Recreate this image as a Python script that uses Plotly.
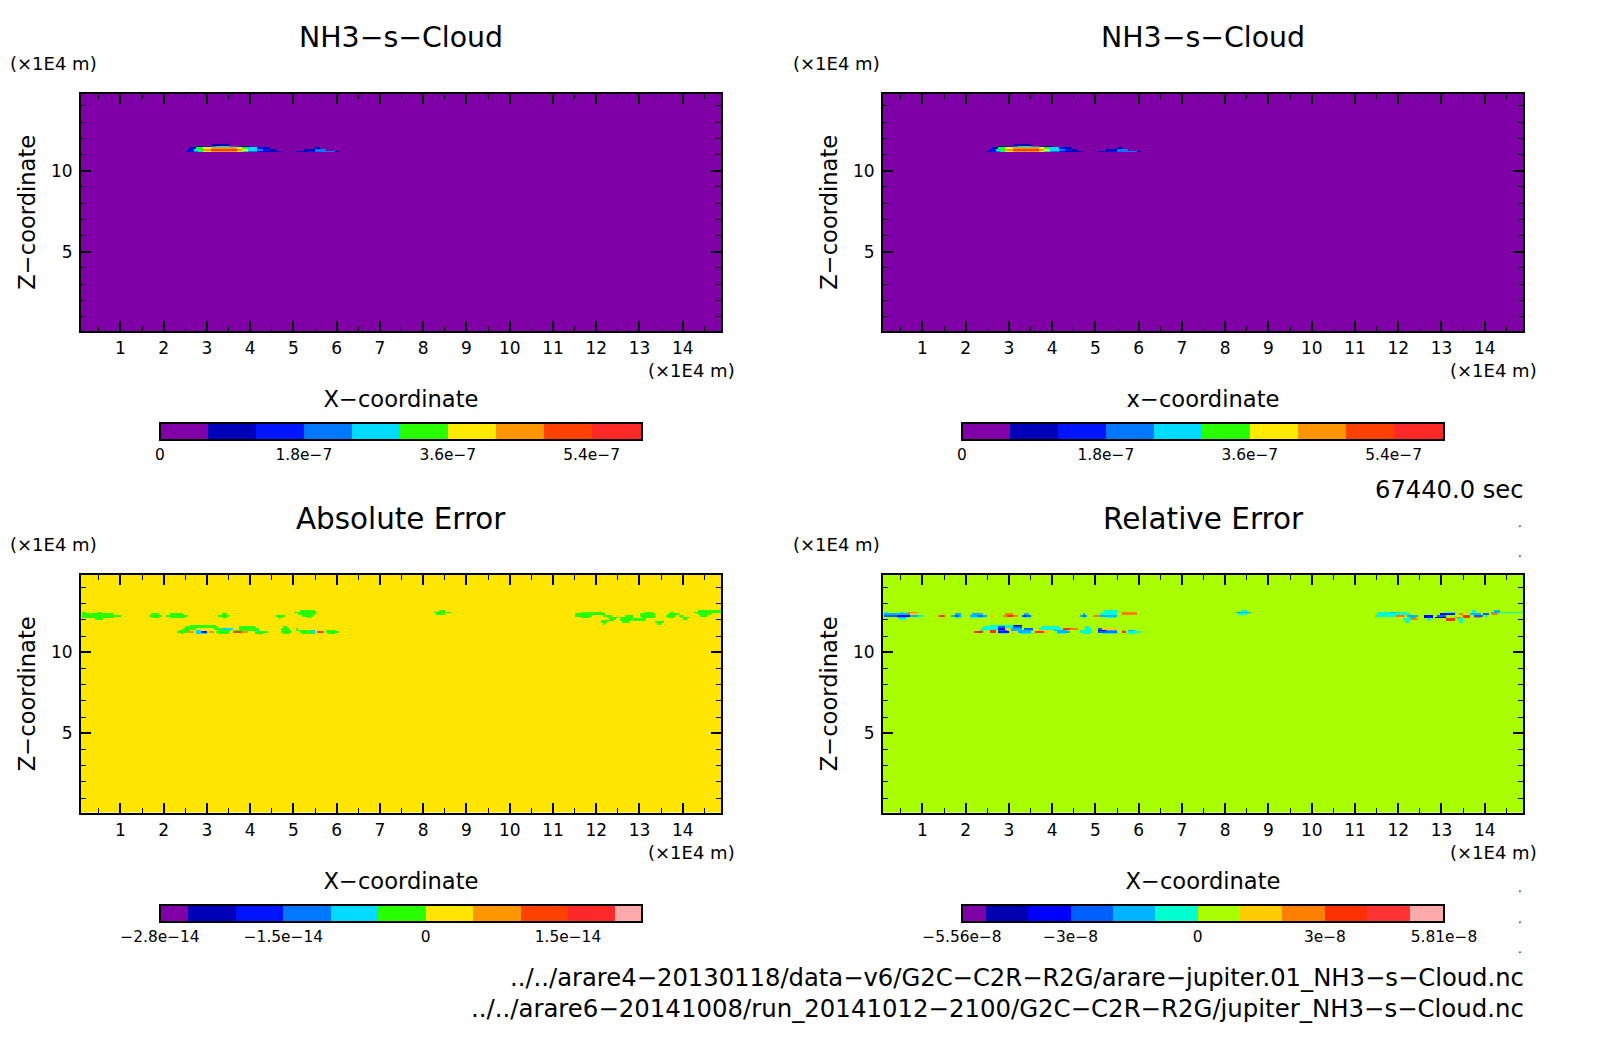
import numpy as np
import plotly.graph_objects as go

# page size minus the 8px body margin of the browser
PAGE_MARGIN = 8
WIDTH = 1604 - 2 * PAGE_MARGIN
HEIGHT = 1054 - 2 * PAGE_MARGIN
FONT = "DejaVu Sans"

X_TICKS = list(range(1, 15))
Z_TICKS = [5, 10]
X_RANGE = [0.087, 14.885]
Z_RANGE = [0.11, 14.77]

# runs are (z, x from, x to, value), both axes in 1E4 m
CLOUD_SCALE = 1e-7
CLOUD_RUNS = [
    (11.6, 3.08, 3.52, 0.9),
    (11.5, 2.77, 2.91, 0.9), (11.5, 2.91, 3.08, 1.5), (11.5, 3.08, 3.21, 2.1), (11.5, 3.21, 3.52, 2.7),
    (11.5, 3.52, 3.68, 2.1), (11.5, 3.68, 3.82, 1.5), (11.5, 3.82, 4.0, 0.9),
    (11.4, 2.62, 2.77, 0.9), (11.4, 2.77, 2.91, 3.3), (11.4, 2.91, 3.08, 3.9), (11.4, 3.08, 3.68, 4.5),
    (11.4, 3.68, 3.82, 3.9), (11.4, 3.82, 3.97, 3.3), (11.4, 3.97, 4.13, 2.7), (11.4, 4.13, 4.28, 1.5),
    (11.4, 4.28, 4.45, 0.9),
    (11.3, 2.53, 2.62, 0.9), (11.3, 2.62, 2.68, 1.5), (11.3, 2.68, 2.79, 2.7), (11.3, 2.79, 2.91, 3.3),
    (11.3, 2.91, 3.08, 4.5), (11.3, 3.08, 3.68, 5.1), (11.3, 3.68, 3.82, 4.5), (11.3, 3.82, 3.97, 3.9),
    (11.3, 3.97, 4.13, 2.7), (11.3, 4.13, 4.28, 2.1), (11.3, 4.28, 4.45, 1.5), (11.3, 4.45, 4.58, 0.9),
    (11.2, 2.48, 2.57, 0.9), (11.2, 2.57, 2.68, 1.5), (11.2, 2.68, 2.79, 2.1), (11.2, 2.79, 2.91, 2.7),
    (11.2, 2.91, 3.08, 3.9), (11.2, 3.08, 3.68, 4.5), (11.2, 3.68, 3.82, 3.9), (11.2, 3.82, 3.97, 2.7),
    (11.2, 3.97, 4.13, 2.1), (11.2, 4.13, 4.28, 1.5), (11.2, 4.28, 4.71, 0.9),
    (11.4, 5.48, 5.62, 0.9),
    (11.3, 5.27, 5.48, 0.9), (11.3, 5.48, 5.74, 2.1),
    (11.2, 5.07, 5.31, 0.9), (11.2, 5.31, 5.48, 1.5), (11.2, 5.48, 5.97, 2.1), (11.2, 5.97, 6.03, 0.9),
]

ABS_SCALE = 1e-14
ABS_RUNS = [
    # upper band, left
    (12.5, 0.10, 0.19, -0.25), (12.5, 0.46, 0.54, -0.25),
    (12.4, 0.10, 0.85, -0.25), (12.3, 0.10, 0.98, -0.25), (12.2, 0.10, 0.85, -0.25), (12.1, 0.38, 0.58, -0.25),
    (12.4, 1.71, 1.89, -0.25), (12.3, 1.65, 1.94, -0.25), (12.2, 1.70, 1.90, -0.25),
    (12.4, 2.16, 2.46, -0.25), (12.3, 2.06, 2.54, -0.25), (12.2, 2.14, 2.50, -0.25),
    (12.4, 3.35, 3.43, -0.25), (12.3, 3.27, 3.52, -0.25), (12.2, 3.33, 3.47, -0.25),
    (12.3, 4.60, 4.82, -0.25), (12.2, 4.65, 4.76, -0.25),
    (12.6, 5.16, 5.49, -0.25), (12.5, 5.02, 5.53, -0.25), (12.4, 5.08, 5.51, -0.25),
    (12.3, 5.20, 5.47, -0.25), (12.2, 5.28, 5.41, -0.25),
    # lower band
    (11.7, 2.62, 3.20, -0.25),
    (11.6, 2.50, 3.23, -0.25), (11.6, 3.77, 4.12, -0.25), (11.6, 4.74, 4.87, -0.25),
    (11.5, 2.43, 2.73, -0.25), (11.5, 3.16, 3.35, -0.25), (11.5, 3.35, 3.58, -0.75), (11.5, 3.73, 4.20, -0.25),
    (11.5, 4.72, 4.89, -0.25), (11.5, 5.04, 5.12, -0.25),
    (11.4, 2.35, 2.58, -0.25), (11.4, 2.73, 2.85, -0.75), (11.4, 3.23, 3.54, -0.25), (11.4, 3.62, 4.08, -0.25),
    (11.4, 4.08, 4.20, -0.75), (11.4, 4.70, 4.93, -0.25), (11.4, 5.04, 5.41, -0.25), (11.4, 5.41, 5.50, -0.75),
    (11.4, 5.76, 5.97, -0.25),
    (11.3, 2.31, 2.54, -0.25), (11.3, 2.54, 2.70, 0.75), (11.3, 2.77, 2.85, -0.75), (11.3, 2.85, 3.00, -1.75),
    (11.3, 3.04, 3.16, 0.75), (11.3, 3.22, 3.52, -0.25), (11.3, 3.58, 3.81, 1.25), (11.3, 3.81, 3.97, 0.75),
    (11.3, 4.08, 4.39, -0.25), (11.3, 4.68, 4.94, -0.25), (11.3, 5.16, 5.41, -0.25), (11.3, 5.41, 5.48, -0.75),
    (11.3, 5.57, 5.68, 1.25), (11.3, 5.74, 6.05, -0.25),
    (11.2, 2.39, 2.46, -0.25), (11.2, 2.77, 3.00, -0.75), (11.2, 3.23, 3.50, -0.25), (11.2, 4.12, 4.31, -0.25),
    (11.2, 4.74, 4.89, -0.25), (11.2, 5.20, 5.50, -0.25), (11.2, 5.78, 5.93, -0.25),
    # spot near x = 8.4
    (12.6, 8.35, 8.50, -0.25), (12.5, 8.23, 8.63, -0.25), (12.4, 8.30, 8.50, -0.25),
    # upper band, right
    (12.6, 14.33, 14.90, -0.25),
    (12.5, 11.64, 12.17, -0.25), (12.5, 13.12, 13.29, -0.25), (12.5, 13.72, 13.79, -0.25), (12.5, 14.23, 14.90, -0.25),
    (12.4, 11.52, 12.21, -0.25), (12.4, 13.02, 13.33, -0.25), (12.4, 13.64, 13.91, -0.25), (12.4, 14.33, 14.64, -0.25),
    (12.3, 11.48, 11.90, -0.25), (12.3, 12.17, 12.37, -0.25), (12.3, 12.64, 12.83, -0.25), (12.3, 12.98, 13.37, -0.25),
    (12.3, 13.58, 13.87, -0.25), (12.3, 13.91, 14.02, -0.25), (12.3, 14.41, 14.57, -0.25),
    (12.2, 11.64, 11.87, -0.25), (12.2, 12.25, 12.48, -0.25), (12.2, 12.56, 12.87, -0.25), (12.2, 13.06, 13.33, -0.25),
    (12.2, 13.64, 13.81, -0.25), (12.2, 13.95, 14.14, -0.25),
    (12.1, 12.29, 12.44, -0.25), (12.1, 12.56, 13.14, -0.25), (12.1, 14.02, 14.10, -0.25),
    (12.0, 12.10, 12.41, -0.25), (12.0, 12.56, 12.79, -0.25), (12.0, 12.87, 13.14, -0.25),
    (11.9, 12.08, 12.25, -0.25), (11.9, 12.60, 12.75, -0.25), (11.9, 13.37, 13.55, -0.25),
    (11.8, 12.14, 12.21, -0.25), (11.8, 13.41, 13.49, -0.25),
]

REL_SCALE = 1e-8
REL_RUNS = [
    # upper band, left
    (12.5, 0.11, 0.19, -0.5), (12.5, 0.45, 0.53, -0.5), (12.5, 0.67, 0.92, 2.5),
    (12.4, 0.11, 0.69, -1.5), (12.4, 0.69, 0.92, 1.5),
    (12.3, 0.11, 0.38, -2.5), (12.3, 0.38, 0.69, -3.5), (12.3, 0.69, 0.88, -1.5), (12.3, 0.88, 1.00, -0.5),
    (12.2, 0.38, 0.65, -1.5), (12.1, 0.45, 0.61, -0.5),
    (12.3, 1.34, 1.42, 2.5), (12.3, 1.42, 1.50, 3.5), (12.3, 1.50, 1.57, 2.5),
    (12.4, 1.73, 1.88, -1.5), (12.3, 1.67, 1.75, -1.5), (12.3, 1.75, 1.85, -2.5), (12.3, 1.85, 1.92, -1.5),
    (12.2, 1.73, 1.88, -0.5),
    (12.4, 2.15, 2.42, -1.5), (12.3, 2.11, 2.25, -1.5), (12.3, 2.25, 2.40, -2.5), (12.3, 2.40, 2.50, -1.5),
    (12.2, 2.15, 2.38, -0.5), (12.3, 2.57, 2.69, 1.5),
    (12.4, 2.92, 3.08, 2.5), (12.3, 2.84, 2.95, 2.5), (12.3, 2.95, 3.10, 3.5), (12.3, 3.10, 3.19, 2.5),
    (12.4, 3.35, 3.46, -1.5), (12.3, 3.28, 3.35, -2.5), (12.3, 3.35, 3.42, -3.5), (12.3, 3.42, 3.50, -2.5),
    (12.2, 3.35, 3.46, -0.5),
    (12.4, 4.69, 4.77, -1.5), (12.3, 4.63, 4.69, -1.5), (12.3, 4.69, 4.77, -2.5), (12.3, 4.77, 4.81, -1.5),
    (12.2, 4.69, 4.77, -0.5), (12.3, 4.94, 5.12, 2.5),
    (12.6, 5.20, 5.50, -0.5), (12.5, 5.20, 5.50, -0.5), (12.4, 5.12, 5.50, -0.5), (12.3, 5.12, 5.25, -1.5),
    (12.3, 5.25, 5.50, -2.0), (12.2, 5.23, 5.43, -0.5),
    (12.5, 5.62, 5.93, 2.5), (12.4, 5.62, 5.97, 2.5),
    # lower band
    (11.7, 2.53, 3.11, -0.5), (11.7, 3.11, 3.30, -4.5),
    (11.6, 2.38, 2.76, -0.5), (11.6, 2.76, 2.92, -2.5), (11.6, 2.92, 3.11, -0.5), (11.6, 3.11, 3.30, -2.5),
    (11.6, 3.77, 4.15, -0.5), (11.6, 4.73, 4.87, -0.5),
    (11.5, 2.34, 2.73, -0.5), (11.5, 2.73, 2.88, -3.5), (11.5, 2.88, 3.00, 1.5), (11.5, 3.07, 3.30, -1.5),
    (11.5, 3.34, 3.57, -2.5), (11.5, 3.72, 4.19, -0.5), (11.5, 4.27, 4.42, 3.5), (11.5, 4.42, 4.61, 2.5),
    (11.5, 4.73, 4.88, -0.5), (11.5, 5.03, 5.15, -2.5), (11.5, 5.15, 5.50, 1.5),
    (11.4, 2.30, 2.42, -0.5), (11.4, 2.53, 2.69, 3.0), (11.4, 2.76, 2.96, -2.5), (11.4, 3.07, 3.57, -1.5),
    (11.4, 3.57, 3.95, 1.5), (11.4, 4.03, 4.34, -1.5), (11.4, 4.65, 4.92, -0.5), (11.4, 5.03, 5.23, -3.5),
    (11.4, 5.23, 5.50, -1.5), (11.4, 5.58, 5.67, 2.5), (11.4, 5.73, 5.88, -1.5),
    (11.3, 2.22, 2.38, 3.5), (11.3, 2.57, 2.69, 3.5), (11.3, 2.76, 3.00, -3.5), (11.3, 3.07, 3.15, 1.5),
    (11.3, 3.19, 3.50, -1.5), (11.3, 3.60, 3.80, 3.5), (11.3, 3.80, 3.95, 1.5), (11.3, 4.11, 4.42, -1.5),
    (11.3, 4.65, 4.92, -0.5), (11.3, 5.07, 5.50, -2.5), (11.3, 5.58, 5.69, 3.5), (11.3, 5.73, 6.04, -0.5),
    (11.2, 2.80, 2.96, -0.5), (11.2, 3.23, 3.50, -0.5), (11.2, 4.11, 4.30, -0.5), (11.2, 4.69, 4.84, -0.5),
    (11.2, 5.15, 5.50, -0.5), (11.2, 5.73, 5.88, -0.5),
    # spot near x = 8.4
    (12.6, 8.35, 8.50, -0.5), (12.5, 8.25, 8.60, -1.5), (12.4, 8.30, 8.50, -0.5),
    # upper band, right
    (12.6, 13.71, 13.78, -0.5), (12.6, 14.21, 14.36, -1.5),
    (12.5, 11.51, 12.20, -0.5), (12.5, 11.78, 11.97, -1.5), (12.5, 13.09, 13.28, -0.5), (12.5, 13.48, 13.63, 1.5),
    (12.5, 13.71, 13.82, -0.5), (12.5, 14.13, 14.36, -1.5), (12.5, 14.36, 14.90, -0.5),
    (12.4, 11.51, 12.24, -0.5), (12.4, 12.97, 13.32, -3.5), (12.4, 13.40, 13.51, 2.5), (12.4, 13.63, 13.90, -1.5),
    (12.4, 13.94, 14.09, -2.5), (12.4, 14.13, 14.32, 2.5),
    (12.3, 11.47, 11.93, -0.5), (12.3, 11.93, 12.13, 2.5), (12.3, 12.20, 12.43, -1.5), (12.3, 12.59, 12.82, -3.5),
    (12.3, 12.90, 13.09, -2.5), (12.3, 13.48, 13.67, 3.5), (12.3, 13.75, 13.94, -2.5), (12.3, 13.98, 14.05, -0.5),
    (12.2, 11.93, 12.09, 1.5), (12.2, 12.24, 12.40, -1.5), (12.2, 12.47, 12.55, 1.5), (12.2, 12.59, 12.78, -3.5),
    (12.2, 12.86, 13.09, -4.5), (12.2, 13.28, 13.47, 2.5), (12.2, 13.51, 13.63, 3.5), (12.2, 13.75, 13.90, 2.5),
    (12.1, 12.09, 12.28, -0.5), (12.1, 12.32, 12.47, 2.5), (12.1, 12.63, 12.74, -0.5), (12.1, 13.09, 13.32, 3.5),
    (12.1, 13.36, 13.48, -0.5),
    (12.0, 12.13, 12.24, -0.5), (12.0, 12.63, 12.70, -0.5), (12.0, 13.09, 13.28, 3.0), (12.0, 13.40, 13.48, -0.5),
    (11.9, 12.16, 12.26, -0.5), (11.9, 13.38, 13.50, -0.5),
]

CLOUD_COLORS = ["#8000a8", "#0000b8", "#0014ff", "#0078ff", "#00dcff",
                "#28ff00", "#ffeb00", "#ff9600", "#ff4100", "#ff2828"]
CLOUD_EDGES = [0, 0.6, 1.2, 1.8, 2.4, 3.0, 3.6, 4.2, 4.8, 5.4, 6.03]
CLOUD_TICKS = [0, 1.8, 3.6, 5.4]
CLOUD_TICK_TEXT = ["0", "1.8e−7", "3.6e−7", "5.4e−7"]

ABS_COLORS = ["#8000a8", "#0000b8", "#0014ff", "#0078ff", "#00dcff", "#28ff00",
              "#ffe600", "#ff9600", "#ff4100", "#ff2828", "#ffaaaa"]
ABS_EDGES = [-2.8, -2.5, -2.0, -1.5, -1.0, -0.5, 0, 0.5, 1.0, 1.5, 2.0, 2.28]
ABS_TICKS = [-2.8, -1.5, 0, 1.5]
ABS_TICK_TEXT = ["−2.8e−14", "−1.5e−14", "0", "1.5e−14"]

REL_COLORS = ["#8000a8", "#0000b0", "#0000ff", "#0060ff", "#00b4ff", "#00ffd0",
              "#a8ff00", "#ffcc00", "#ff8000", "#ff3000", "#ff3333", "#ffaaaa"]
REL_EDGES = [-5.56, -5, -4, -3, -2, -1, 0, 1, 2, 3, 4, 5, 5.81]
REL_TICKS = [-5.56, -3, 0, 3, 5.81]
REL_TICK_TEXT = ["−5.56e−8", "−3e−8", "0", "3e−8", "5.81e−8"]

FILE_LINES = [
    "../../arare4-20130118/data-v6/G2C-C2R-R2G/arare-jupiter.01_NH3-s-Cloud.nc",
    "../../arare6-20141008/run_20141012-2100/G2C-C2R-R2G/jupiter_NH3-s-Cloud.nc",
]
TIME_LABEL = "67440.0 sec"
DOT_Y = [527, 557, 860, 892, 923, 953]


def px_x(px):
    return (px - PAGE_MARGIN) / WIDTH


def px_y(py):
    return 1 - (py - PAGE_MARGIN) / HEIGHT


def stepped_scale(edges, colors):
    span = edges[-1] - edges[0]
    scale = []
    for lo, hi, col in zip(edges[:-1], edges[1:], colors):
        scale.append([(lo - edges[0]) / span, col])
        scale.append([(hi - edges[0]) / span, col])
    return scale


def fill_field(x, z, runs):
    field = np.zeros((len(z), len(x)))
    for level, x0, x1, value in runs:
        j = int(round(level * 10))
        i0, i1 = np.searchsorted(x, [x0, x1])
        field[j, i0:i1] = value
    return field


grid_x = np.arange(0, 300) * 0.05 + 0.025
grid_z = np.arange(0, 150) * 0.1

panels = [
    dict(title="NH3−s−Cloud", title_size=28.4, xlabel="X−coordinate", runs=CLOUD_RUNS, scale=CLOUD_SCALE,
         edges=CLOUD_EDGES, colors=CLOUD_COLORS, ticks=CLOUD_TICKS, text=CLOUD_TICK_TEXT,
         left=81, top=93.5, unit_x=8, row_shift=0),
    dict(title="NH3−s−Cloud", title_size=28.4, xlabel="x−coordinate", runs=CLOUD_RUNS, scale=CLOUD_SCALE,
         edges=CLOUD_EDGES, colors=CLOUD_COLORS, ticks=CLOUD_TICKS, text=CLOUD_TICK_TEXT,
         left=883, top=93.5, unit_x=791, row_shift=0),
    dict(title="Absolute Error", title_size=29.4, xlabel="X−coordinate", runs=ABS_RUNS, scale=ABS_SCALE,
         edges=ABS_EDGES, colors=ABS_COLORS, ticks=ABS_TICKS, text=ABS_TICK_TEXT,
         left=81, top=575, unit_x=8, row_shift=0.05),
    dict(title="Relative Error", title_size=29.5, xlabel="X−coordinate", runs=REL_RUNS, scale=REL_SCALE,
         edges=REL_EDGES, colors=REL_COLORS, ticks=REL_TICKS, text=REL_TICK_TEXT,
         left=883, top=575, unit_x=791, row_shift=0.05),
]

fig = go.Figure()
axes = {}
notes = []

for n, p in enumerate(panels, start=1):
    left, top = p["left"], p["top"]
    scale = p["scale"]
    edges = [e * scale for e in p["edges"]]
    fig.add_trace(go.Heatmap(
        x=grid_x,
        y=grid_z - p["row_shift"],
        z=fill_field(grid_x, grid_z, p["runs"]) * scale,
        xaxis=f"x{n}",
        yaxis=f"y{n}",
        zmin=edges[0],
        zmax=edges[-1],
        colorscale=stepped_scale(edges, p["colors"]),
        hoverinfo="skip",
        colorbar=dict(
            orientation="h",
            xref="paper",
            yref="paper",
            x=px_x(left + 79),
            xanchor="left",
            y=px_y(top + 329.5),
            yanchor="top",
            lenmode="pixels",
            len=482,
            thicknessmode="pixels",
            thickness=17,
            xpad=0,
            ypad=0,
            outlinewidth=2,
            outlinecolor="black",
            borderwidth=0,
            ticks="outside",
            ticklen=1,
            tickcolor="rgba(0,0,0,0)",
            tickmode="array",
            tickvals=[t * scale for t in p["ticks"]],
            ticktext=p["text"],
            tickfont=dict(family=FONT, size=15.4, color="black"),
        ),
    ))
    axes[f"xaxis{n}"] = dict(
        domain=[px_x(left), px_x(left + 640)],
        anchor=f"y{n}",
        range=X_RANGE,
        tickmode="array",
        tickvals=X_TICKS,
        ticks="inside",
        ticklen=10,
        tickwidth=2,
        tickcolor="black",
        ticklabelstandoff=1,
        minor=dict(dtick=0.5, tick0=0, ticks="inside", ticklen=5, tickwidth=1, tickcolor="black"),
        showline=True,
        linewidth=2,
        linecolor="black",
        mirror="ticks",
        showgrid=False,
        zeroline=False,
        tickfont=dict(family=FONT, size=17, color="black"),
        title=dict(text=p["xlabel"], font=dict(family=FONT, size=22.6, color="black"), standoff=34),
    )
    axes[f"yaxis{n}"] = dict(
        domain=[px_y(top + 237.5), px_y(top)],
        anchor=f"x{n}",
        range=Z_RANGE,
        tickmode="array",
        tickvals=Z_TICKS,
        ticks="inside",
        ticklen=10,
        tickwidth=2,
        tickcolor="black",
        ticklabelstandoff=3,
        minor=dict(dtick=1, tick0=0, ticks="inside", ticklen=5, tickwidth=1, tickcolor="black"),
        showline=True,
        linewidth=2,
        linecolor="black",
        mirror="ticks",
        showgrid=False,
        zeroline=False,
        tickfont=dict(family=FONT, size=17, color="black"),
        title=dict(text="Z−coordinate", font=dict(family=FONT, size=22.6, color="black"), standoff=9),
    )
    notes.append(dict(text=p["title"], x=px_x(left + 320), y=px_y(top - 56.5), xanchor="center", size=p["title_size"]))
    notes.append(dict(text="(×1E4 m)", x=px_x(p["unit_x"]), y=px_y(top - 30.5), xanchor="left", size=18))
    notes.append(dict(text="(×1E4 m)", x=px_x(left + 656), y=px_y(top + 277.5), xanchor="right", size=18))

notes.append(dict(text=TIME_LABEL, x=px_x(1526), y=px_y(490), xanchor="right", size=24.2))
for line, py, size in zip(FILE_LINES, [977, 1008], [24.25, 24.4]):
    notes.append(dict(text=line.replace("-", "−"), x=px_x(1526), y=px_y(py), xanchor="right", size=size))
for py in DOT_Y:
    notes.append(dict(text=".", x=px_x(1520), y=px_y(py - 4), xanchor="center", size=12))

fig.update_layout(
    width=WIDTH,
    height=HEIGHT,
    margin=dict(l=0, r=0, t=0, b=0),
    paper_bgcolor="white",
    plot_bgcolor="white",
    showlegend=False,
    annotations=[
        dict(text=a["text"], x=a["x"], y=a["y"], xref="paper", yref="paper", xanchor=a["xanchor"],
             yanchor="middle", showarrow=False, font=dict(family=FONT, size=a["size"], color="black"))
        for a in notes
    ],
    **axes,
)

fig.write_html("out.html")
